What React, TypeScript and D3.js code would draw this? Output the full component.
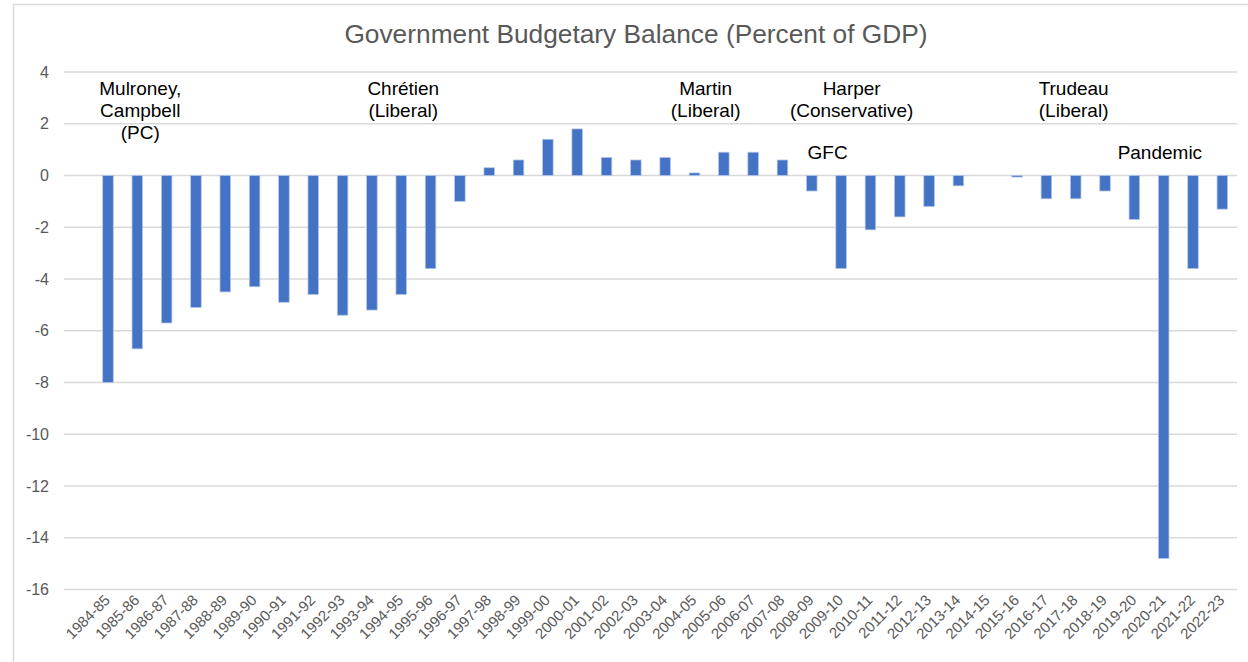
import React from "react";
import * as d3 from "d3";

const years = [
  "1984-85","1985-86","1986-87","1987-88","1988-89","1989-90","1990-91","1991-92","1992-93","1993-94",
  "1994-95","1995-96","1996-97","1997-98","1998-99","1999-00","2000-01","2001-02","2002-03","2003-04",
  "2004-05","2005-06","2006-07","2007-08","2008-09","2009-10","2010-11","2011-12","2012-13","2013-14",
  "2014-15","2015-16","2016-17","2017-18","2018-19","2019-20","2020-21","2021-22","2022-23",
];
const balance = [
  -8.0, -6.7, -5.7, -5.1, -4.5, -4.3, -4.9, -4.6, -5.4, -5.2,
  -4.6, -3.6, -1.0, 0.3, 0.6, 1.4, 1.8, 0.7, 0.6, 0.7,
  0.1, 0.9, 0.9, 0.6, -0.6, -3.6, -2.1, -1.6, -1.2, -0.4,
  0.0, -0.06, -0.9, -0.9, -0.6, -1.7, -14.8, -3.6, -1.3,
];
const yTicks = [4, 2, 0, -2, -4, -6, -8, -10, -12, -14, -16];
const annotations = [
  { year: "1985-86", lines: ["Mulroney,", "Campbell", "(PC)"], row: 0 },
  { year: "1994-95", lines: ["Chrétien", "(Liberal)"], row: 0 },
  { year: "2004-05", lines: ["Martin", "(Liberal)"], row: 0 },
  { year: "2009-10", lines: ["Harper", "(Conservative)"], row: 0 },
  { year: "2017-18", lines: ["Trudeau", "(Liberal)"], row: 0 },
  { year: "2009-10", lines: ["GFC"], row: 1 },
  { year: "2020-21", lines: ["Pandemic"], row: 1 },
];
const annotationOffsets = [0.1, 0.07, 0.38, 0.36, -0.07, -0.46, -0.13];

const W = 1248;
const H = 662;
const gridLeft = 64;
const plotRight = 1237;
const FONT = "'Liberation Sans', Arial, Helvetica, sans-serif";

export default function App() {
  const step = (plotRight - gridLeft) / (years.length + 1);
  const x = d3.scaleBand<string>().domain(years).range([gridLeft + step, plotRight]).paddingInner(0.64).paddingOuter(0.32);
  const y = d3.scaleLinear().domain([-16, 4]).range([589.5, 72]);
  const center = (yr: string) => (x(yr) as number) + x.bandwidth() / 2;
  const stepX = x.step();

  return (
    <svg width={W} height={H} style={{ position: "absolute", left: 0, top: 0, background: "#fff" }}>
      <rect x={0} y={0} width={W} height={H} fill="#fff" />
      <line x1={13} x2={W} y1={4.5} y2={4.5} stroke="#d9d9d9" strokeWidth={1.5} />
      <line x1={13.5} x2={13.5} y1={4} y2={H} stroke="#d9d9d9" strokeWidth={1.5} />
      <text x={636} y={43} textAnchor="middle" fontFamily={FONT} fontSize={26.3} fill="#595959">
        Government Budgetary Balance (Percent of GDP)
      </text>
      {yTicks.map((t) => (
        <g key={t}>
          <line x1={gridLeft} x2={plotRight} y1={y(t)} y2={y(t)} stroke="#d9d9d9" strokeWidth={1.5} />
          <text x={49} y={y(t)} dy="0.35em" textAnchor="end" fontFamily={FONT} fontSize={16} fill="#595959">
            {t}
          </text>
        </g>
      ))}
      {years.map((yr, i) => {
        const v = balance[i];
        const y0 = y(Math.max(0, v));
        const y1 = y(Math.min(0, v));
        return (
          <rect key={yr} x={x(yr)} y={y0} width={x.bandwidth()} height={Math.max(0, y1 - y0)}
            fill="#4472c4" stroke="#b4c7e7" strokeWidth={0.75} />
        );
      })}
      {years.map((yr) => {
        const cx = center(yr) + 3;
        const cy = 601;
        return (
          <text key={yr} x={cx} y={cy} textAnchor="end" fontFamily={FONT} fontSize={15} fill="#595959"
            transform={`rotate(-45, ${cx}, ${cy})`}>
            {yr}
          </text>
        );
      })}
      {annotations.map((a, i) => {
        const cx = center(a.year) + annotationOffsets[i] * stepX;
        const base = a.row === 0 ? 95 : 159;
        return (
          <text key={a.lines[0]} textAnchor="middle" fontFamily={FONT} fontSize={19} fill="#000">
            {a.lines.map((l, j) => (
              <tspan key={j} x={cx} y={base + j * 21.8}>{l}</tspan>
            ))}
          </text>
        );
      })}
    </svg>
  );
}
